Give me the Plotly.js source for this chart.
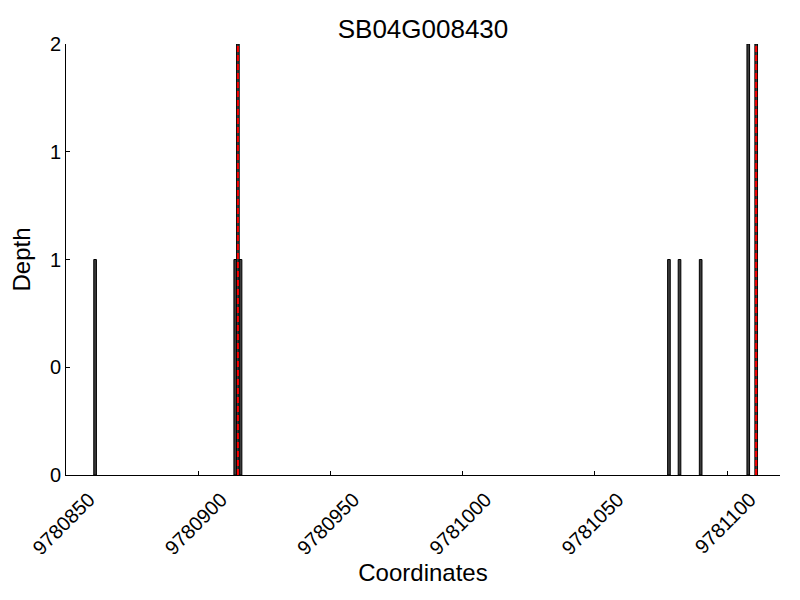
<!DOCTYPE html>
<html>
<head>
<meta charset="utf-8">
<script src="https://cdn.plot.ly/plotly-3.0.1.min.js"></script>
<style>body{margin:0;padding:0;background:#fff}#chart{width:800px;height:600px}</style>
</head>
<body>
<div id="chart"></div>
<script>
const geneName = "SB04G008430";
const coordinates = [9780861, 9780914, 9780915, 9780916, 9781078, 9781082, 9781090, 9781108, 9781111];
const depths = [1, 1, 2, 1, 1, 1, 1, 2, 2];
const markerPositions = [9780915, 9781111];
const yTickValues = [0, 0.5, 1, 1.5, 2];
const yTickLabels = ["0", "0", "1", "1", "2"];
const xTickValues = [9780850, 9780900, 9780950, 9781000, 9781050, 9781100];
const xTickLabels = ["9780850", "9780900", "9780950", "9781000", "9781050", "9781100"];

const traces = [{
  type: "bar",
  x: coordinates,
  y: depths,
  width: 1,
  marker: {color: "#3c3c3c", line: {color: "#000000", width: 1}},
  hoverinfo: "x+y"
}];

const shapes = markerPositions.map(p => ({
  type: "line", xref: "x", yref: "y",
  x0: p, x1: p, y0: 0, y1: 2,
  line: {color: "#ff0000", width: 2, dash: "6px,3px"}
}));

const layout = {
  width: 800, height: 600,
  margin: {l: 66, r: 20, t: 44, b: 125},
  paper_bgcolor: "#ffffff", plot_bgcolor: "#ffffff",
  showlegend: false,
  font: {family: "Liberation Sans, Arial, sans-serif", color: "#000000"},
  title: {text: geneName, x: 0.5, xref: "paper", xanchor: "center", y: 0.952, yanchor: "middle", font: {size: 26}},
  xaxis: {
    range: [9780850, 9781120],
    tickvals: xTickValues, ticktext: xTickLabels,
    tickangle: -45, ticks: "inside", ticklen: 4, tickcolor: "#000",
    showline: true, linecolor: "#000", linewidth: 1,
    showgrid: false, zeroline: false,
    tickfont: {size: 20},
    ticklabelshift: 23,
    ticklabelstandoff: 4,
    title: {text: "Coordinates", font: {size: 24}, standoff: 0}
  },
  yaxis: {
    range: [0, 2],
    tickvals: yTickValues, ticktext: yTickLabels,
    ticks: "inside", ticklen: 4, tickcolor: "#000",
    showline: true, linecolor: "#000", linewidth: 1,
    showgrid: false, zeroline: false,
    tickfont: {size: 20},
    title: {text: "Depth", font: {size: 24}, standoff: 12}
  },
  shapes: shapes,
  bargap: 0
};

Plotly.newPlot("chart", traces, layout, {displayModeBar: false, staticPlot: true});
</script>
</body>
</html>
